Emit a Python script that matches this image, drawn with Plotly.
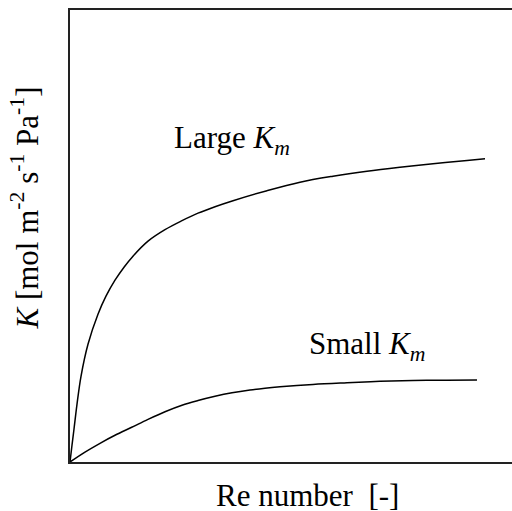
import plotly.graph_objects as go

# Re number (arbitrary units) and K (arbitrary units)
re_large = [0, 0.45, 0.90, 1.58, 2.49, 4.07, 6.33, 8.14, 10.18, 12.22, 14.25, 17.65, 21.49,
            25.34, 28.96, 32.81, 36.88, 44.57, 52.04, 59.50, 67.19, 74.66, 82.13, 89.82, 93.89]
k_large = [0, 3.70, 7.24, 12.77, 18.97, 26.05, 32.69, 36.68, 40.22, 43.10, 45.54, 48.86, 51.40,
           53.39, 55.05, 56.48, 57.81, 60.03, 61.91, 63.23, 64.34, 65.22, 66.00, 66.71, 67.10]

re_small = [0, 3.39, 6.79, 10.18, 13.96, 17.65, 21.49, 25.34, 28.96, 32.81, 36.65, 40.72,
            44.12, 47.51, 54.98, 62.67, 70.14, 77.60, 85.29, 92.08]
k_small = [0, 2.19, 4.14, 5.91, 7.68, 9.43, 11.11, 12.55, 13.59, 14.53, 15.30, 15.92,
           16.32, 16.63, 17.16, 17.53, 17.84, 18.02, 18.11, 18.13]

FONT = "Liberation Serif, Times New Roman, serif"

fig = go.Figure()
fig.add_trace(go.Scatter(x=re_large, y=k_large, mode="lines", hoverinfo="skip",
                         line=dict(color="black", width=1.5, shape="spline", smoothing=1)))
fig.add_trace(go.Scatter(x=re_small, y=k_small, mode="lines", hoverinfo="skip",
                         line=dict(color="black", width=1.5, shape="spline", smoothing=1)))

fig.update_layout(
    width=512, height=511,
    margin=dict(l=70, r=0, t=10, b=49, pad=0),
    paper_bgcolor="white", plot_bgcolor="white",
    showlegend=False,
    font=dict(family=FONT, color="black"),
    xaxis=dict(range=[0, 100], showgrid=False, zeroline=False, showticklabels=False,
               ticks="", showline=True, mirror=True, linecolor="#222", linewidth=1.5),
    yaxis=dict(range=[0, 100], showgrid=False, zeroline=False, showticklabels=False,
               ticks="", showline=True, mirror=False, linecolor="#222", linewidth=1.5),
    annotations=[
        dict(text="Large <i>K</i><sub><i>m</i></sub>", xref="paper", yref="paper",
             x=(172 - 70) / 442, y=(462 - 140) / 452, xanchor="left", yanchor="middle",
             showarrow=False, font=dict(size=31, family=FONT)),
        dict(text="Small <i>K</i><sub><i>m</i></sub>", xref="paper", yref="paper",
             x=(307 - 70) / 442, y=(462 - 346) / 452, xanchor="left", yanchor="middle",
             showarrow=False, font=dict(size=31, family=FONT)),
        dict(text="Re number  [-]", xref="paper", yref="paper",
             x=(307.5 - 70) / 442, y=(462 - 495) / 452, xanchor="center", yanchor="middle",
             showarrow=False, font=dict(size=31, family=FONT)),
        dict(text="<i>K</i> [mol m<sup>-2</sup> s<sup>-1</sup> Pa<sup>-1</sup>]",
             xref="paper", yref="paper",
             x=(25 - 70) / 442, y=(462 - 208.5) / 452, xanchor="center", yanchor="middle",
             textangle=-90, showarrow=False, font=dict(size=31, family=FONT)),
    ],
)

fig.write_html(
    "out.html",
    config={"displayModeBar": False},
    post_script="document.body.style.margin='0';document.body.style.overflow='hidden';",
)
